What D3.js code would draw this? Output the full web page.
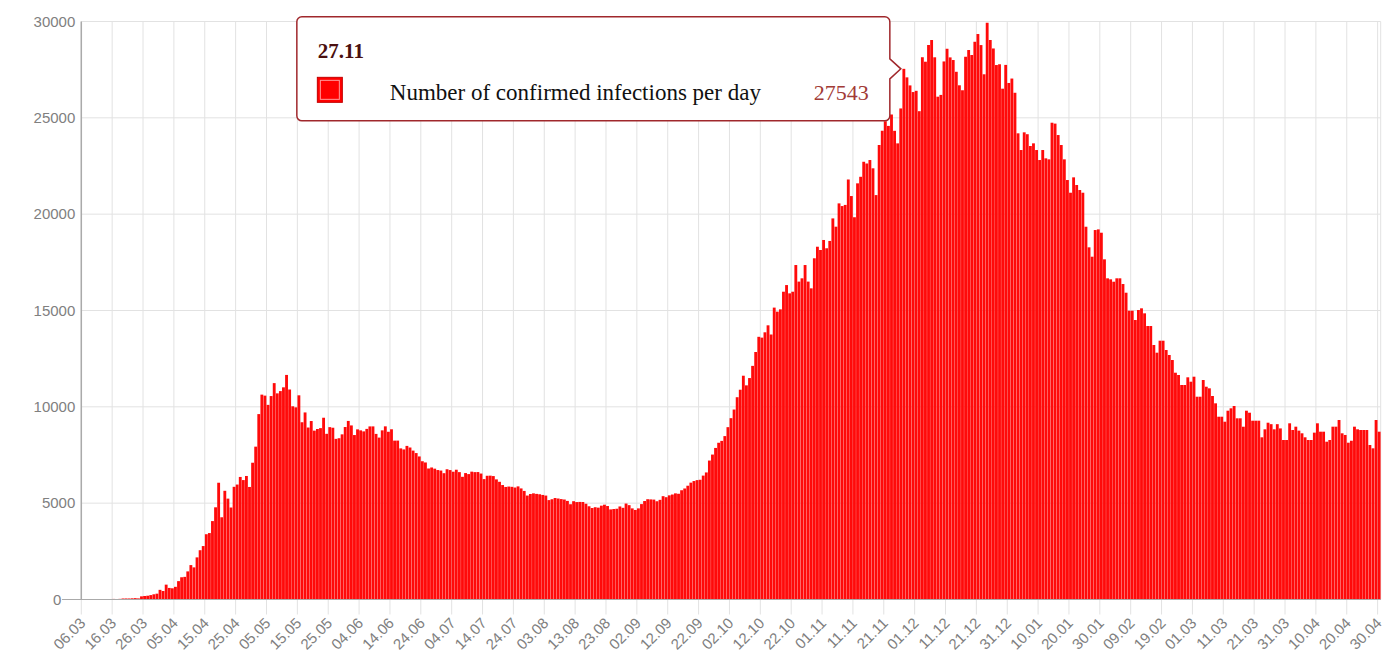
<!DOCTYPE html>
<html><head><meta charset="utf-8">
<script src="https://cdn.jsdelivr.net/npm/d3@7"></script>
<style>
html,body{margin:0;padding:0;background:#fff;}
svg{display:block;}
</style></head>
<body>
<svg id="chart" width="1385" height="659"></svg>
<script>
// ---- DATA (daily confirmed infections) ----
const mar20 = [0, 6, 3, 0, 3, 3, 8, 17, 14, 4, 30, 21, 33, 52, 54, 53, 61, 71, 57, 163, 182, 196, 228, 270, 302, 501];
const apr20 = [440, 771, 601, 582, 658, 954, 1154, 1175, 1459, 1786, 1667, 2186, 2558, 2774, 3388, 3448, 4070, 4785, 6060, 4268, 5642, 5236, 4774, 5849, 5966, 6361, 6198, 6411, 5841, 7099];
const may20 = [7933, 9623, 10633, 10581, 10102, 10559, 11231, 10699, 10817, 11012, 11656, 10899, 10028, 9974, 10598, 9200, 9709, 8926, 9263, 8764, 8849, 8894, 9434, 8599, 8946, 8915, 8338, 8371, 8572, 8952, 9268];
const jun20 = [9035, 8536, 8831, 8779, 8726, 8855, 8984, 8985, 8595, 8404, 8779, 8987, 8706, 8835, 8246, 8248, 7843, 7790, 7972, 7889, 7728, 7600, 7425, 7176, 7113, 6800, 6852, 6791, 6719, 6693];
const jul20 = [6556, 6760, 6718, 6632, 6736, 6611, 6368, 6562, 6509, 6635, 6611, 6615, 6537, 6248, 6422, 6428, 6406, 6234, 6109, 5940, 5842, 5862, 5848, 5811, 5871, 5765, 5635, 5395, 5475, 5509, 5482];
const aug20 = [5462, 5427, 5394, 5159, 5204, 5267, 5241, 5212, 5189, 5118, 4945, 5102, 5057, 5065, 5061, 4969, 4839, 4748, 4790, 4767, 4870, 4921, 4852, 4676, 4696, 4711, 4829, 4758, 4980, 4897, 4729];
const sep20 = [4648, 4729, 4952, 5110, 5205, 5195, 5185, 5099, 5172, 5363, 5310, 5406, 5449, 5509, 5488, 5670, 5762, 5905, 6065, 6148, 6196, 6215, 6431, 6595, 7212, 7523, 7867, 8135, 8232, 8481];
const oct20 = [8945, 9412, 9859, 10499, 10888, 11615, 11115, 11493, 12126, 12846, 13634, 13592, 13868, 14231, 13754, 15150, 14940, 15060, 15975, 16320, 15890, 15975, 17360, 16500, 16670, 17360, 16500, 16150, 17710, 18310, 18140];
const nov20 = [18660, 18230, 18610, 19780, 19350, 20560, 20420, 20480, 21800, 20940, 19840, 21600, 21940, 22720, 22630, 22810, 22380, 20990, 23590, 24330, 24822, 24581, 25173, 24326, 23675, 25487, 27543, 27100, 26683, 26338];
const dec20 = [26402, 25345, 28145, 27913, 28780, 29039, 28142, 26097, 26190, 27927, 28585, 28137, 28000, 27390, 26689, 26431, 28170, 28520, 28260, 28948, 29350, 28776, 27260, 29935, 29040, 28600, 27740, 27780, 26513, 27747, 26809];
const jan21 = [27039, 26301, 24196, 23329, 24247, 24150, 23537, 23676, 23329, 22810, 23329, 22897, 22845, 24746, 24700, 24107, 23589, 22845, 21772, 21113, 21911, 21513, 21253, 21113, 19348, 18279, 17792, 19176, 19210, 19037, 17656];
const feb21 = [16670, 16618, 16494, 16670, 16670, 16374, 15923, 14989, 14989, 14506, 15025, 15113, 14853, 14194, 14194, 13209, 12810, 13432, 13432, 12949, 12690, 12430, 11771, 11652, 11133, 11133, 11532, 11304];
const mar21 = [11564, 10525, 10525, 11392, 11044, 10961, 10562, 10182, 9487, 9487, 9228, 9799, 9923, 10043, 9404, 9404, 8968, 9799, 9695, 9280, 9280, 9280, 8418, 8833, 9176, 9100, 8833, 9100, 8880, 8278, 8278];
const apr21 = [9145, 8797, 8970, 8764, 8626, 8418, 8278, 8278, 8660, 9145, 8710, 8710, 8190, 8278, 8970, 8970, 9316, 8626, 8540, 8138, 8240, 8970, 8833, 8797, 8797, 8797, 8019, 7847, 9316, 8710];

const tickLabels = ["06.03","16.03","26.03","05.04","15.04","25.04","05.05","15.05","25.05","04.06","14.06","24.06","04.07","14.07","24.07","03.08","13.08","23.08","02.09","12.09","22.09","02.10","12.10","22.10","01.11","11.11","21.11","01.12","11.12","21.12","31.12","10.01","20.01","30.01","09.02","19.02","01.03","11.03","21.03","31.03","10.04","20.04","30.04"];
const yTicks = [0, 5000, 10000, 15000, 20000, 25000, 30000];
const seriesName = "Number of confirmed infections per day";
const tooltipDate = "2020-11-27";
const tooltipTitle = "27.11";

// ---- build table ----
const values = [].concat(mar20, apr20, may20, jun20, jul20, aug20, sep20, oct20, nov20, dec20, jan21, feb21, mar21, apr21);
const categories = d3.utcDay.range(new Date(Date.UTC(2020, 2, 6)), new Date(Date.UTC(2021, 4, 1))).map(d3.utcFormat("%Y-%m-%d"));
const table = categories.map((c, i) => ({date: c, value: values[i]}));
const tickCats = categories.filter((c, i) => i % 10 === 0);

// ---- layout ----
const svg = d3.select("#chart");
const pL = 81.3, pR = 1380.7, pT = 21.5, pB = 599.5;
const x = d3.scaleBand().domain(categories).range([pL, pR]).padding(0);
const y = d3.scaleLinear().domain([0, 30000]).range([pB, pT]);
const bw = x.bandwidth();

// horizontal grid
svg.append("g").selectAll("line").data(yTicks.filter(d => d > 0)).join("line")
  .attr("x1", pL).attr("x2", pR).attr("y1", d => y(d)).attr("y2", d => y(d))
  .attr("stroke", "#e2e2e2").attr("stroke-width", 1);

// vertical grid + ticks
svg.append("g").selectAll("line").data(tickCats).join("line")
  .attr("x1", d => x(d)).attr("x2", d => x(d)).attr("y1", pT).attr("y2", pB + 15)
  .attr("stroke", "#e2e2e2").attr("stroke-width", 1);
svg.append("line").attr("x1", pR).attr("x2", pR).attr("y1", pT).attr("y2", pB)
  .attr("stroke", "#e2e2e2");

// bars
svg.append("g").selectAll("rect").data(table).join("rect")
  .attr("x", d => x(d.date) + 0.12)
  .attr("width", bw - 0.24)
  .attr("y", d => y(d.value))
  .attr("height", d => y(0) - y(d.value))
  .attr("fill", "#ff0a0a");

// axes lines
svg.append("line").attr("x1", 62).attr("x2", pR).attr("y1", y(0)).attr("y2", y(0))
  .attr("stroke", "#aaaaaa").attr("stroke-width", 1.2);
svg.append("line").attr("x1", pL).attr("x2", pL).attr("y1", pT).attr("y2", pB)
  .attr("stroke", "#aaaaaa").attr("stroke-width", 1.5);

// y axis labels
const yAxis = d3.axisLeft(y).tickValues(yTicks).tickSize(0).tickPadding(6).tickFormat(d3.format("d"));
const yg = svg.append("g").attr("transform", `translate(${pL},0)`).call(yAxis);
yg.select(".domain").remove();
yg.selectAll("text").attr("font-family", "Liberation Sans, Arial, sans-serif").attr("font-size", 15).attr("fill", "#808080");
yg.selectAll(".tick").filter(d => d === 0).select("text").attr("x", -20);

// x axis labels
const xAxis = d3.axisBottom(x).tickValues(tickCats).tickSize(0).tickFormat((d, i) => tickLabels[i]);
const xg = svg.append("g").attr("transform", `translate(0,${pB})`).call(xAxis);
xg.select(".domain").remove();
xg.selectAll("text")
  .attr("y", null).attr("x", null).attr("dy", "0.71em")
  .attr("transform", `translate(${-bw / 2 - 2.5},17) rotate(-45)`)
  .attr("text-anchor", "end")
  .attr("font-family", "Liberation Sans, Arial, sans-serif").attr("font-size", 15).attr("fill", "#808080");

// tooltip
const tv = table.find(d => d.date === tooltipDate);
const tipX = x(tv.date) + bw / 2 - 3;
const tipY = y(tv.value);
const w = 593, h = 104, r = 5, arrow = 11;
const tg = svg.append("g").attr("transform", `translate(${tipX - arrow - w},${tipY - h / 2})`);
const p = d3.path();
p.moveTo(r, 0); p.lineTo(w - r, 0); p.arcTo(w, 0, w, r, r);
p.lineTo(w, h / 2 - 10); p.lineTo(w + arrow, h / 2); p.lineTo(w, h / 2 + 10);
p.lineTo(w, h - r); p.arcTo(w, h, w - r, h, r);
p.lineTo(r, h); p.arcTo(0, h, 0, h - r, r);
p.lineTo(0, r); p.arcTo(0, 0, r, 0, r); p.closePath();
tg.append("path").attr("d", p.toString()).attr("fill", "#fff").attr("stroke", "#a0282c").attr("stroke-width", 1.5);
tg.append("text").attr("x", 21).attr("y", 41).text(tooltipTitle)
  .attr("font-family", "Liberation Serif, Times New Roman, serif").attr("font-weight", "bold")
  .attr("font-size", 21).attr("fill", "#4a1010");
tg.append("rect").attr("x", 20.5).attr("y", 60.5).attr("width", 25).attr("height", 25)
  .attr("fill", "#ff0000").attr("stroke", "#c40000").attr("stroke-width", 1);
tg.append("rect").attr("x", 23.5).attr("y", 63.5).attr("width", 19).attr("height", 19)
  .attr("fill", "none").attr("stroke", "#ff9a9a").attr("stroke-width", 1);
tg.append("text").attr("x", 93).attr("y", 83).text(seriesName)
  .attr("font-family", "Liberation Serif, Times New Roman, serif").attr("font-size", 23).attr("fill", "#111");
tg.append("text").attr("x", w - 21).attr("y", 83).attr("text-anchor", "end").text(tv.value)
  .attr("font-family", "Liberation Serif, Times New Roman, serif").attr("font-size", 22).attr("fill", "#a23a36");
</script>
</body></html>
